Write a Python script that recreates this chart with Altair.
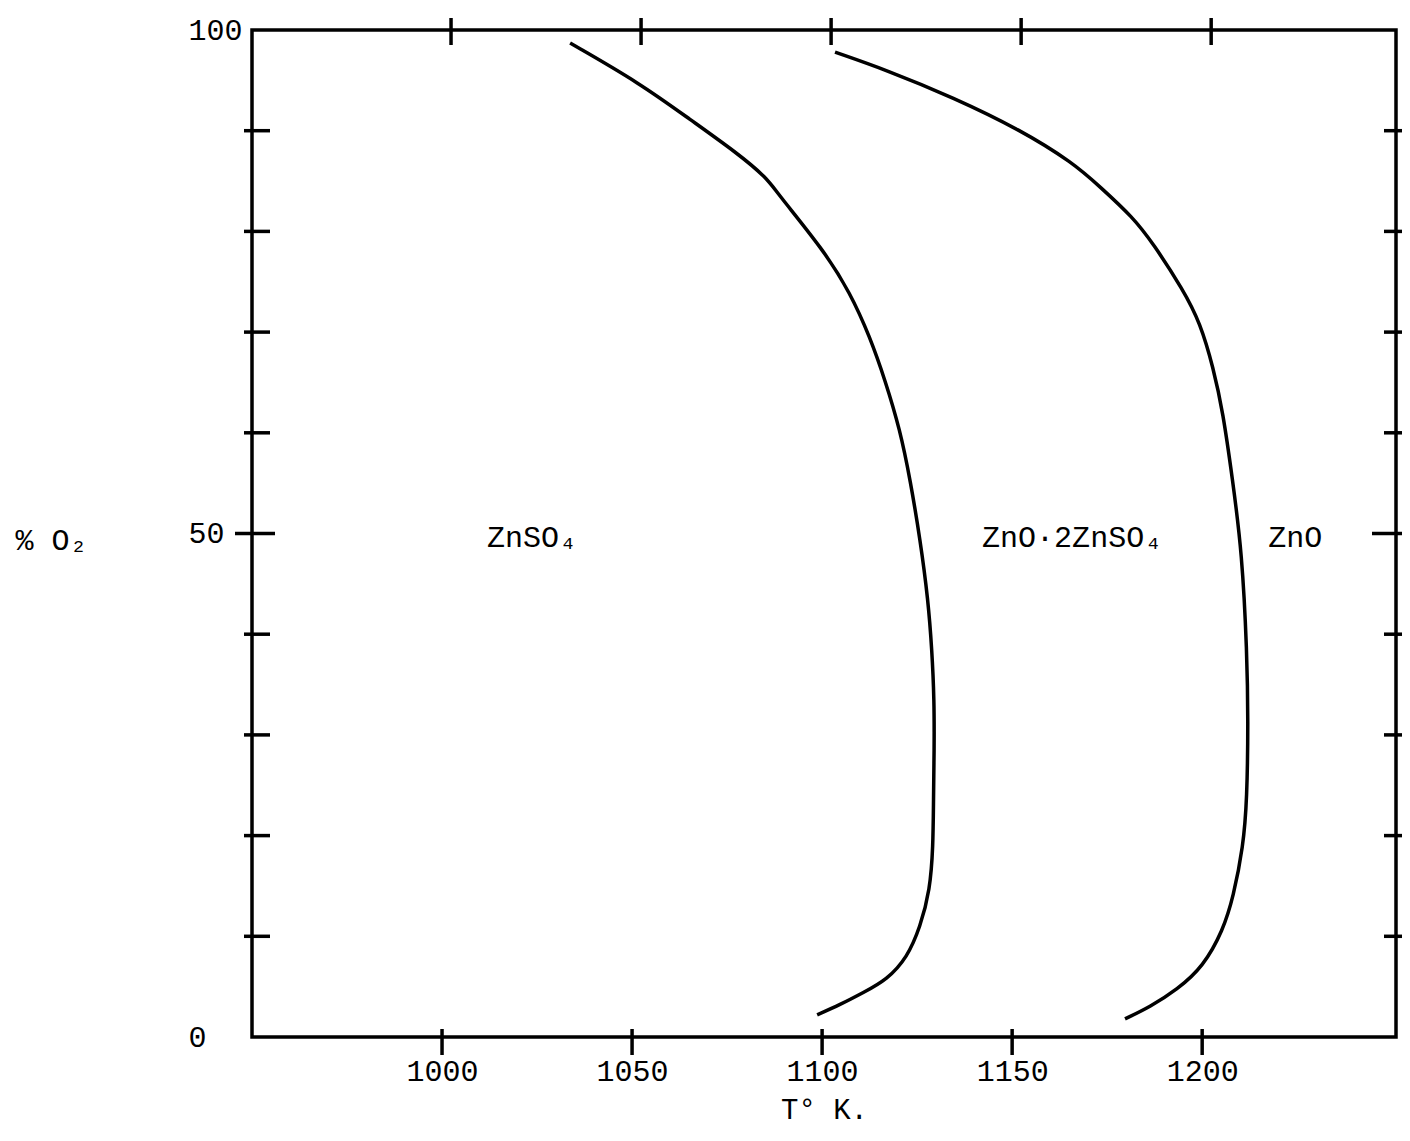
import altair as alt
import pandas as pd

# ---- data ----
curve1_T = [1033.7, 1052.1, 1065.3, 1077.6, 1085.5, 1088.2, 1100.3, 1107.4, 1112.6,
            1116.6, 1120.5, 1123.2, 1125.8, 1127.9, 1128.9, 1129.5, 1129.5, 1129.3,
            1129.2, 1128.4, 1125.8, 1122.4, 1117.1, 1110.8, 1104.7, 1098.7]
curve1_O2 = [98.7, 94.7, 91.1, 87.8, 85.3, 83.8, 78.2, 73.9, 69.5,
             65.2, 60.3, 55.3, 49.4, 43.4, 38.4, 33.5, 28.5, 23.5,
             18.9, 14.6, 10.9, 7.9, 5.7, 4.4, 3.2, 2.2]

curve2_T = [1103.4, 1117.1, 1134.5, 1152.1, 1166.1, 1173.2, 1181.8, 1187.1, 1195.0,
            1199.5, 1202.9, 1205.5, 1207.9, 1210.5, 1211.8, 1212.1, 1211.8, 1210.8,
            1208.2, 1205.5, 1200.3, 1193.4, 1186.3, 1179.7]
curve2_O2 = [97.8, 96.0, 93.3, 90.1, 86.8, 84.4, 81.4, 78.8, 74.2,
             70.9, 66.5, 62.0, 55.6, 48.1, 38.1, 31.5, 23.5, 18.9,
             13.9, 10.6, 7.0, 4.7, 3.0, 1.8]

region_labels = ["ZnSO\u2084", "ZnO\u00b72ZnSO\u2084", "ZnO"]
region_T = [1011.8, 1142.1, 1217.4]
region_O2 = [49.6, 49.6, 49.6]

x_ticks = [1000, 1050, 1100, 1150, 1200]
y_label_values = [0, 50, 100]
y_minor_ticks = [10, 20, 30, 40, 60, 70, 80, 90]
y_major_ticks = [50]

W, H = 1144, 1007
FONT = "Liberation Mono"

rows = []
for name, ts, os_ in [("a", curve1_T, curve1_O2), ("b", curve2_T, curve2_O2)]:
    for i, (t, o) in enumerate(zip(ts, os_)):
        rows.append({"curve": name, "i": i, "T": t, "O2": o})
df_curves = pd.DataFrame(rows)
df_labels = pd.DataFrame({"T": region_T, "O2": region_O2, "label": region_labels})
df_xt = pd.DataFrame({"T": x_ticks})
df_ymin = pd.DataFrame({"O2": y_minor_ticks})
df_ymaj = pd.DataFrame({"O2": y_major_ticks})

xs = alt.Scale(domain=[950, 1251], nice=False, zero=False)
ys = alt.Scale(domain=[0, 100], nice=False)

x_axis = alt.Axis(
    values=x_ticks, format="d", grid=False, ticks=False, tickSize=0, domain=False,
    labelFont=FONT, labelFontSize=30, labelColor="black", labelBaseline="middle",
    labelPadding=34, labelFlush=False, labelOverlap=False,
    title="T\u00b0 K.", titleFont=FONT, titleFontSize=29, titleFontWeight="normal",
    titleColor="black", titleX=W / 2, titleY=72, titleAlign="center", titleBaseline="middle",
)
y_axis = alt.Axis(
    values=y_label_values, format="d", grid=False, ticks=False, tickSize=0, domain=False,
    labelFont=FONT, labelFontSize=30, labelColor="black", labelAlign="left",
    labelBaseline="middle", labelPadding=64, labelOverlap=False,
    title="% O\u2082", titleFont=FONT, titleFontSize=30, titleFontWeight="normal",
    titleColor="black", titleAngle=0, titleAlign="left", titleBaseline="middle",
    titleX=-237, titleY=510,
)

X = alt.X("T:Q", scale=xs, axis=x_axis)
Y = alt.Y("O2:Q", scale=ys, axis=y_axis)

curves = alt.Chart(df_curves).mark_line(
    color="black", strokeWidth=3.5, interpolate="basis"
).encode(x=X, y=Y, detail="curve:N", order="i:Q")

labels = alt.Chart(df_labels).mark_text(
    align="left", baseline="middle", font=FONT, fontSize=30, color="black"
).encode(x=X, y=Y, text="label:N")

rule_kw = dict(color="black", strokeWidth=3.5)
bottom_ticks = alt.Chart(df_xt).mark_rule(**rule_kw).encode(
    x=X, y=alt.value(H - 8), y2=alt.value(H + 18)
)
top_ticks = alt.Chart(df_xt).mark_rule(xOffset=9, **rule_kw).encode(
    x=X, y=alt.value(-12), y2=alt.value(15)
)
left_minor = alt.Chart(df_ymin).mark_rule(**rule_kw).encode(
    y=Y, x=alt.value(-8), x2=alt.value(18)
)
left_major = alt.Chart(df_ymaj).mark_rule(**rule_kw).encode(
    y=Y, x=alt.value(-17), x2=alt.value(23)
)
right_minor = alt.Chart(df_ymin).mark_rule(**rule_kw).encode(
    y=Y, x=alt.value(W - 12), x2=alt.value(W + 6)
)
right_major = alt.Chart(df_ymaj).mark_rule(**rule_kw).encode(
    y=Y, x=alt.value(W - 24), x2=alt.value(W + 6)
)

chart = alt.layer(
    curves, labels, bottom_ticks, top_ticks, left_minor, left_major, right_minor, right_major
).properties(
    width=W, height=H,
    autosize=alt.AutoSizeParams(type="none"),
    padding={"left": 244, "top": 22, "right": 6, "bottom": 90},
    background="white",
).configure_view(stroke="black", strokeWidth=3.5)

chart.save("out.html", embed_options={"renderer": "svg", "actions": False})
